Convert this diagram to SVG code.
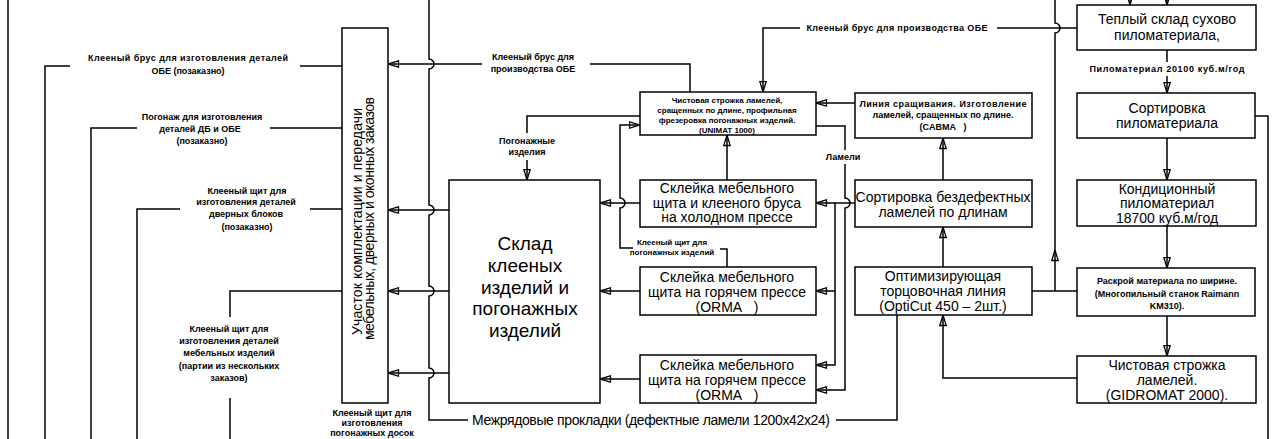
<svg xmlns="http://www.w3.org/2000/svg" width="1272" height="439" viewBox="0 0 1272 439">
<style>
.b{fill:#fff;stroke:#000;stroke-width:1.5}
.c{fill:none;stroke:#000;stroke-width:1.5}
.a{marker-end:url(#arr)}
text{font-family:"Liberation Sans",Arial,sans-serif;fill:#000;text-anchor:middle;dominant-baseline:central}
.s{font-size:9px;font-weight:bold}
.x{font-size:8px;font-weight:bold}
.m{font-size:14px}
.l{font-size:19px}
</style>
<defs>
<marker id="arr" viewBox="0 0 12 8" refX="11.5" refY="4" markerWidth="12" markerHeight="8" markerUnits="userSpaceOnUse" orient="auto">
<path d="M1,0.8 L11.5,4 L1,7.2 Z" fill="none" stroke="#000" stroke-width="1.3"/>
</marker>
</defs>
<rect width="1272" height="439" fill="#fff"/>

<g id="connectors">
<path class="c" d="M8,0 V439"/>
<path class="c" d="M342,66 H300 M70,66 H45 V439"/>
<path class="c" d="M342,128 H270 M137,128 H91 V439"/>
<path class="c" d="M342,209 H310 M180,209 H137 V439"/>
<path class="c" d="M342,291 H230 V317 M230,398 V439"/>
<path class="c" d="M836,420 H897 V315"/>
<path class="c" d="M468,420 H429 V378 A5,5 0 0 0 429,368 V296 A5,5 0 0 0 429,286 V215 A5,5 0 0 0 429,205 V69 A5,5 0 0 0 429,59 V0"/>
<path class="c" d="M690,92 V64 H590"/>
<path class="c a" d="M482,64 H388"/>
<path class="c a" d="M449,210 H388"/>
<path class="c a" d="M449,291 H388"/>
<path class="c a" d="M449,373 H388"/>
<path class="c" d="M1077,28 H997"/>
<path class="c a" d="M800,28 H763 V92"/>
<path class="c" d="M640,116 H527 V133"/>
<path class="c a" d="M527,160 V180"/>
<path class="c a" d="M633,248 H620 V208 A5,5 0 0 0 620,198 V125 H640"/>
<path class="c" d="M727,267 V249 H720"/>
<path class="c a" d="M727,180 V135"/>
<path class="c a" d="M640,203 H600"/>
<path class="c a" d="M640,291 H600"/>
<path class="c a" d="M640,379 H600"/>
<path class="c a" d="M855,103 H816"/>
<path class="c" d="M816,126 H845 V150"/>
<path class="c a" d="M845,164 V198 A5,5 0 0 1 845,208 V390 H816"/>
<path class="c a" d="M855,203 H816"/>
<path class="c a" d="M835,203 V365 H816"/>
<path class="c a" d="M835,291 H816"/>
<path class="c a" d="M943,180 V138"/>
<path class="c a" d="M943,267 V227"/>
<path class="c" d="M1032,291 H1077"/>
<path class="c a" d="M1055,291 V250"/>
<path class="c" d="M1055,250 V33 A5,5 0 0 0 1055,23 V0"/>
<path class="c a" d="M1077,378 H943 V315"/>
<path class="c a" d="M1130,-12 V5"/>
<path class="c a" d="M1167,-12 V5"/>
<path class="c" d="M1167,50 V62"/>
<path class="c a" d="M1167,76 V93"/>
<path class="c a" d="M1167,138 V180"/>
<path class="c a" d="M1167,226 V268"/>
<path class="c a" d="M1167,316 V356"/>
<path class="c" d="M1255,116 H1268 V439"/>
</g>

<g id="labels">
<text class="s" x="188" y="58" textLength="200">Клееный брус для изготовления деталей</text>
<text class="s" x="188" y="71">ОБЕ (позаказно)</text>
<text class="s" x="202" y="117">Погонаж для изготовления</text>
<text class="s" x="200" y="129">деталей ДБ и ОБЕ</text>
<text class="s" x="202" y="141">(позаказно)</text>
<text class="s" x="247" y="191">Клееный щит для</text>
<text class="s" x="246" y="202">изготовления деталей</text>
<text class="s" x="246" y="214">дверных блоков</text>
<text class="s" x="247" y="227">(позаказно)</text>
<text class="s" x="229" y="329">Клееный щит для</text>
<text class="s" x="229" y="341">изготовления деталей</text>
<text class="s" x="229" y="353">мебельных изделий</text>
<text class="s" x="229" y="366">(партии из нескольких</text>
<text class="s" x="229" y="378">заказов)</text>
<text class="s" x="372" y="413">Клееный щит для</text>
<text class="s" x="372" y="423">изготовления</text>
<text class="s" x="372" y="433">погонажных досок</text>
<text class="s" x="533" y="57">Клееный брус для</text>
<text class="s" x="533" y="69">производства ОБЕ</text>
<text class="s" x="527" y="141">Погонажные</text>
<text class="s" x="527" y="152">изделия</text>
<text class="s" x="897" y="28" textLength="181">Клееный брус для производства ОБЕ</text>
<text class="s" x="843" y="157">Ламели</text>
<text class="x" x="672" y="242">Клееный щит для</text>
<text class="x" x="672" y="252">погонажных изделий</text>
<text class="s" x="1167" y="69" textLength="155">Пиломатериал 20100 куб.м/год</text>
<text class="m" x="472" y="420" style="text-anchor:start" textLength="358">Межрядовые прокладки (дефектные ламели 1200x42x24)</text>
</g>

<g id="n-uchastok">
<rect class="b" x="342" y="28" width="46" height="375"/>
<text style="font-size:14px;text-anchor:start;dominant-baseline:auto" transform="translate(362,335) rotate(-90)" textLength="227">Участок комплектации и передачи</text>
<text style="font-size:14px;text-anchor:start;dominant-baseline:auto" transform="translate(374,340) rotate(-90)" textLength="243">мебельных, дверных и оконных заказов</text>
</g>

<g id="n-sklad">
<rect class="b" x="449" y="180" width="151" height="223"/>
<text class="l" x="525" y="243">Склад</text>
<text class="l" x="525" y="265">клееных</text>
<text class="l" x="525" y="287">изделий и</text>
<text class="l" x="525" y="308">погонажных</text>
<text class="l" x="525" y="330">изделий</text>
</g>

<g id="n-unimat">
<rect class="b" x="640" y="92" width="176" height="43"/>
<text class="x" x="727" y="100">Чистовая строжка ламелей,</text>
<text class="x" x="727" y="110">сращенных по длине, профильная</text>
<text class="x" x="727" y="120">фрезеровка погонажных изделий.</text>
<text class="x" x="727" y="130">(UNIMAT 1000)</text>
</g>

<g id="n-cold">
<rect class="b" x="640" y="180" width="176" height="47"/>
<text class="m" x="727" y="188">Склейка мебельного</text>
<text class="m" x="727" y="203">щита и клееного бруса</text>
<text class="m" x="727" y="217">на холодном прессе</text>
</g>

<g id="n-hot1">
<rect class="b" x="640" y="267" width="176" height="48"/>
<text class="m" x="727" y="277">Склейка мебельного</text>
<text class="m" x="727" y="292">щита на горячем прессе</text>
<text class="m" x="727" y="307">(ORMA&#160;&#160;&#160;)</text>
</g>

<g id="n-hot2">
<rect class="b" x="640" y="355" width="176" height="48"/>
<text class="m" x="727" y="365">Склейка мебельного</text>
<text class="m" x="727" y="380">щита на горячем прессе</text>
<text class="m" x="727" y="395">(ORMA&#160;&#160;&#160;)</text>
</g>

<g id="n-linia">
<rect class="b" x="855" y="93" width="177" height="45"/>
<text class="s" x="943" y="104" textLength="167">Линия сращивания. Изготовление</text>
<text class="s" x="943" y="115">ламелей, сращенных по длине.</text>
<text class="s" x="943" y="127">(CABMA&#160;&#160;&#160;)</text>
</g>

<g id="n-sort">
<rect class="b" x="855" y="180" width="177" height="47"/>
<text class="m" x="943" y="197">Сортировка бездефектных</text>
<text class="m" x="943" y="212">ламелей по длинам</text>
</g>

<g id="n-opticut">
<rect class="b" x="855" y="267" width="177" height="48"/>
<text class="m" x="943" y="276">Оптимизирующая</text>
<text class="m" x="943" y="291">торцовочная линия</text>
<text class="m" x="943" y="306">(OptiCut 450 – 2шт.)</text>
</g>

<g id="n-teply">
<rect class="b" x="1077" y="5" width="179" height="45"/>
<text class="m" x="1167" y="19">Теплый склад сухово</text>
<text class="m" x="1167" y="35">пиломатериала,</text>
</g>

<g id="n-sortp">
<rect class="b" x="1077" y="93" width="178" height="45"/>
<text class="m" x="1167" y="108">Сортировка</text>
<text class="m" x="1167" y="123">пиломатериала</text>
</g>

<g id="n-kond">
<rect class="b" x="1077" y="180" width="179" height="46"/>
<text class="m" x="1167" y="189">Кондиционный</text>
<text class="m" x="1167" y="203">пиломатериал</text>
<text class="m" x="1167" y="218">18700 куб.м/год</text>
</g>

<g id="n-raskroy">
<rect class="b" x="1077" y="268" width="178" height="48"/>
<text class="s" x="1167" y="281">Раскрой материала по ширине.</text>
<text class="s" x="1167" y="294">(Многопильный станок Raimann</text>
<text class="s" x="1167" y="306">KM310).</text>
</g>

<g id="n-gidromat">
<rect class="b" x="1077" y="356" width="179" height="47"/>
<text class="m" x="1167" y="365">Чистовая строжка</text>
<text class="m" x="1167" y="380">ламелей.</text>
<text class="m" x="1167" y="395">(GIDROMAT 2000).</text>
</g>
</svg>
